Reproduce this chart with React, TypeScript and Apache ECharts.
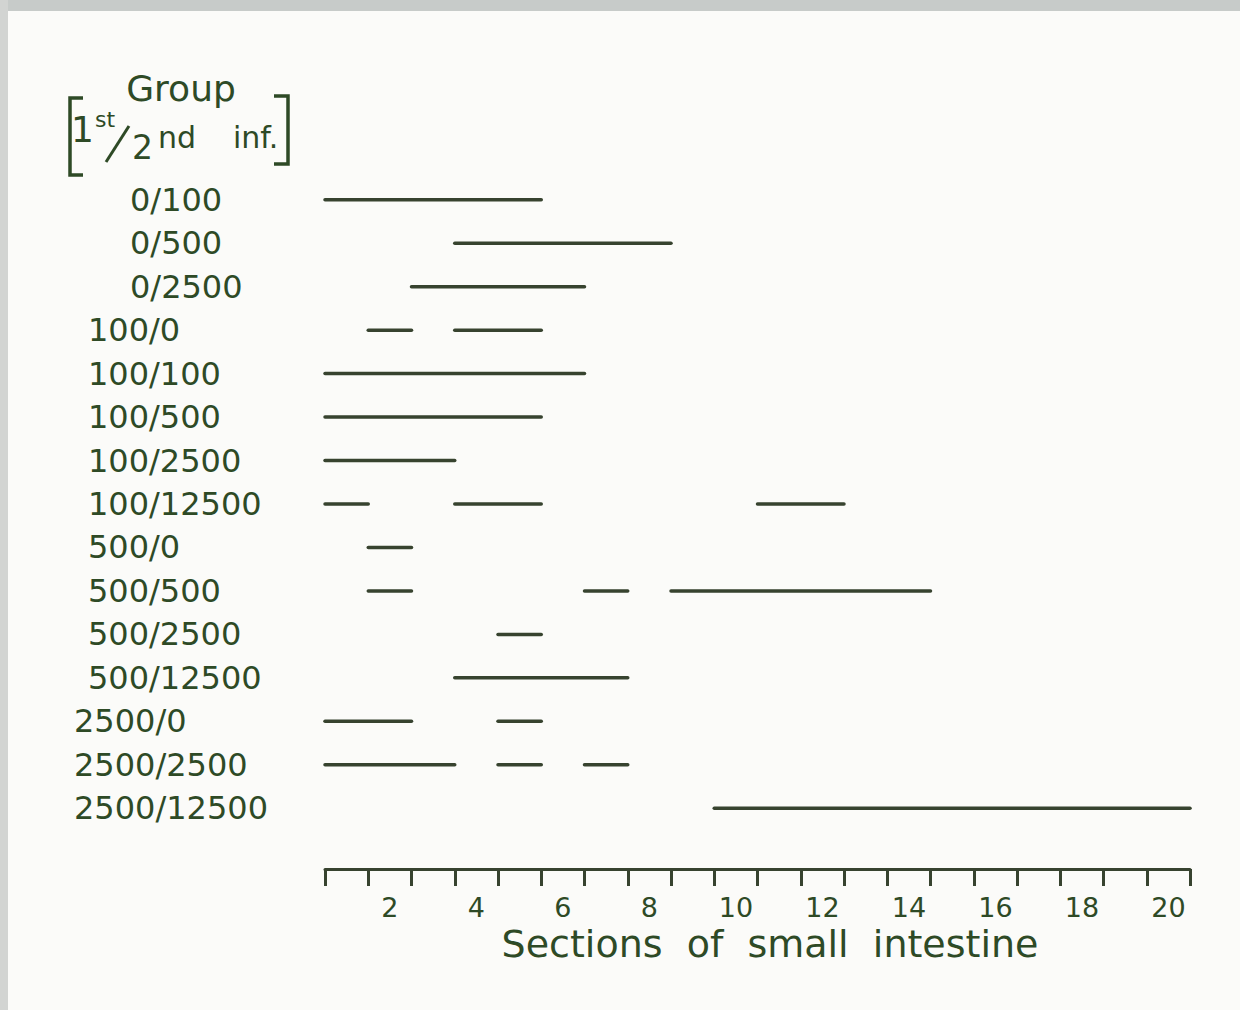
import React, { useEffect, useRef } from "react";
import * as echarts from "echarts";

const groups = [
  "0/100", "0/500", "0/2500", "100/0", "100/100", "100/500", "100/2500", "100/12500",
  "500/0", "500/500", "500/2500", "500/12500", "2500/0", "2500/2500", "2500/12500",
];

const sectionLabels = [
  "1", "2", "3", "4", "5", "6", "7", "8", "9", "10",
  "11", "12", "13", "14", "15", "16", "17", "18", "19", "20",
];

// [group, first section, last section] (inclusive)
const segments: [string, number, number][] = [
  ["0/100", 1, 5],
  ["0/500", 4, 8],
  ["0/2500", 3, 6],
  ["100/0", 2, 2],
  ["100/0", 4, 5],
  ["100/100", 1, 6],
  ["100/500", 1, 5],
  ["100/2500", 1, 3],
  ["100/12500", 1, 1],
  ["100/12500", 4, 5],
  ["100/12500", 11, 12],
  ["500/0", 2, 2],
  ["500/500", 2, 2],
  ["500/500", 7, 7],
  ["500/500", 9, 14],
  ["500/2500", 5, 5],
  ["500/12500", 4, 7],
  ["2500/0", 1, 2],
  ["2500/0", 5, 5],
  ["2500/2500", 1, 3],
  ["2500/2500", 5, 5],
  ["2500/2500", 7, 7],
  ["2500/12500", 10, 20],
];

const FONT = "DejaVu Sans";
const TEXT = "#2e4a26";
const LINE = "#37432f";

export default function App() {
  const ref = useRef<HTMLDivElement>(null);
  useEffect(() => {
    const chart = echarts.init(ref.current!, null, { renderer: "svg" });
    const data = segments.map(([g, a, b]) => [a - 1, b, groups.indexOf(g)]);
    chart.setOption({
      animation: false,
      backgroundColor: "#fbfbf9",
      grid: { left: 325, right: 50, top: 178, bottom: 180 },
      xAxis: [
        {
          type: "category",
          data: sectionLabels,
          boundaryGap: true,
          position: "bottom",
          offset: 39,
          axisLine: { show: true, lineStyle: { color: LINE, width: 3 } },
          axisTick: {
            show: true,
            interval: 0,
            alignWithLabel: false,
            length: 17,
            lineStyle: { color: LINE, width: 3 },
          },
          axisLabel: {
            interval: (i: number) => i % 2 === 1,
            margin: 25,
            color: TEXT,
            fontFamily: FONT,
            fontSize: 27,
          },
          splitLine: { show: false },
        },
        { type: "value", min: 0, max: 20, show: false },
      ],
      yAxis: {
        type: "category",
        inverse: true,
        data: groups,
        axisLine: { show: false },
        axisTick: { show: false },
        splitLine: { show: false },
        axisLabel: {
          align: "left",
          margin: 251,
          color: TEXT,
          fontFamily: FONT,
          fontSize: 32,
          formatter: (v: string) =>
            v.startsWith("0/") ? `{b|${v}}` : v.startsWith("2500") ? `{c|${v}}` : `{a|${v}}`,
          rich: {
            a: { padding: [0, 0, 0, 14], color: TEXT, fontFamily: FONT, fontSize: 32 },
            b: { padding: [0, 0, 0, 56], color: TEXT, fontFamily: FONT, fontSize: 32 },
            c: { padding: [0, 0, 0, 0], color: TEXT, fontFamily: FONT, fontSize: 32 },
          },
        },
      },
      series: [
        {
          type: "custom",
          xAxisIndex: 1,
          yAxisIndex: 0,
          data,
          encode: { x: [0, 1], y: 2 },
          renderItem: (params: any, api: any) => {
            const p1 = api.coord([api.value(0), api.value(2)]);
            const p2 = api.coord([api.value(1), api.value(2)]);
            return {
              type: "line",
              shape: { x1: p1[0], y1: p1[1], x2: p2[0], y2: p2[1] },
              style: { stroke: LINE, lineWidth: 3.5, lineCap: "round" },
            };
          },
        },
      ],
      graphic: [
        { type: "rect", shape: { x: 0, y: 0, width: 1240, height: 11 }, style: { fill: "#c7cbc9" }, z: -10 },
        { type: "rect", shape: { x: 0, y: 0, width: 8, height: 1010 }, style: { fill: "#d2d4d2" }, z: -10 },
        {
          type: "text", x: 181, y: 88,
          style: { text: "Group", font: `36px "${FONT}"`, fill: TEXT, textAlign: "center", textVerticalAlign: "middle" },
        },
        {
          type: "polyline",
          shape: { points: [[83, 98], [70, 98], [70, 175], [83, 175]] },
          style: { stroke: TEXT, lineWidth: 3.5, fill: "none" },
        },
        {
          type: "polyline",
          shape: { points: [[274, 96], [288, 96], [288, 164], [274, 164]] },
          style: { stroke: TEXT, lineWidth: 3.5, fill: "none" },
        },
        {
          type: "text", x: 71, y: 129,
          style: { text: "1", font: `36px "${FONT}"`, fill: TEXT, textAlign: "left", textVerticalAlign: "middle" },
        },
        {
          type: "text", x: 95, y: 119,
          style: { text: "st", font: `22px "${FONT}"`, fill: TEXT, textAlign: "left", textVerticalAlign: "middle" },
        },
        {
          type: "line",
          shape: { x1: 106, y1: 162, x2: 129, y2: 126 },
          style: { stroke: TEXT, lineWidth: 3 },
        },
        {
          type: "text", x: 132, y: 147,
          style: { text: "2", font: `33px "${FONT}"`, fill: TEXT, textAlign: "left", textVerticalAlign: "middle" },
        },
        {
          type: "text", x: 158, y: 137,
          style: { text: "nd", font: `30px "${FONT}"`, fill: TEXT, textAlign: "left", textVerticalAlign: "middle" },
        },
        {
          type: "text", x: 233, y: 137,
          style: { text: "inf.", font: `30px "${FONT}"`, fill: TEXT, textAlign: "left", textVerticalAlign: "middle" },
        },
        {
          type: "text", x: 770, y: 944,
          style: {
            text: "Sections  of  small  intestine",
            font: `38px "${FONT}"`, fill: TEXT, textAlign: "center", textVerticalAlign: "middle",
          },
        },
      ],
    });
    return () => chart.dispose();
  }, []);
  return (
    <div
      ref={ref}
      style={{ position: "fixed", left: 0, top: 0, width: 1240, height: 1010 }}
    />
  );
}
